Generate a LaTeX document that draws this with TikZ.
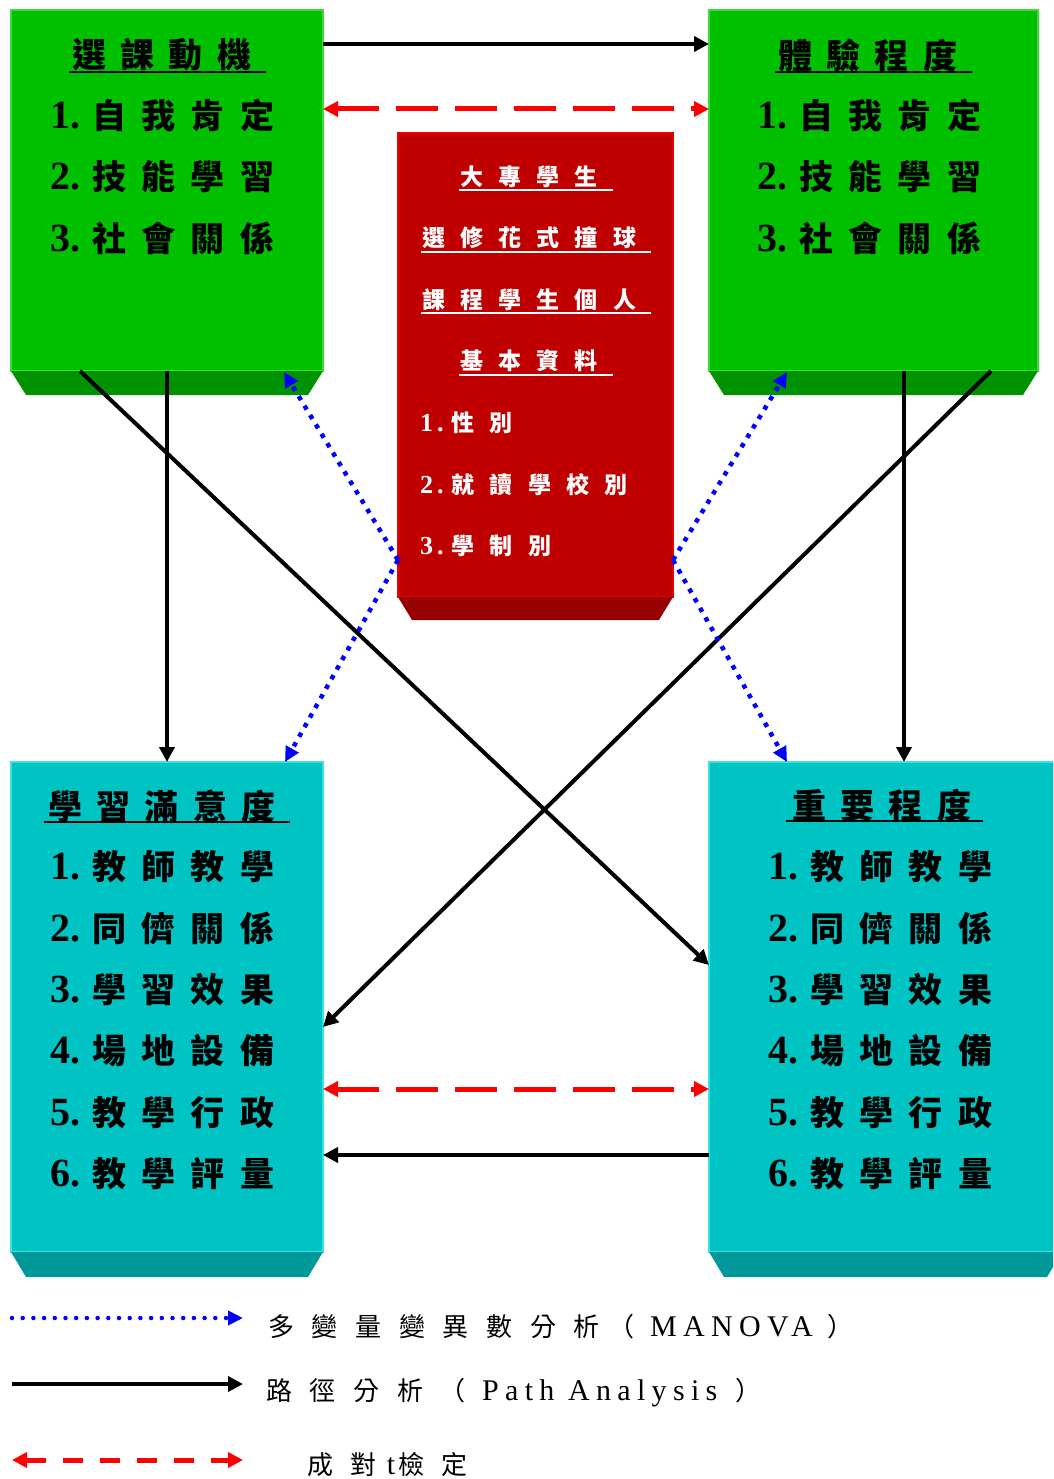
\documentclass[tikz,border=0pt]{standalone}
\usepackage{fontspec}
\setmainfont{Liberation Serif}
\newfontfamily\cjkfont{Noto Sans CJK TC}
\newfontfamily\lsfont[LetterSpace=21]{Liberation Serif}
\usetikzlibrary{arrows.meta,calc}
\definecolor{gface}{RGB}{0,192,0}
\definecolor{gbev}{RGB}{0,146,0}
\definecolor{gedge}{RGB}{60,220,60}
\definecolor{rface}{RGB}{192,0,0}
\definecolor{rbev}{RGB}{150,0,0}
\definecolor{redge}{RGB}{230,0,0}
\definecolor{cface}{RGB}{0,196,196}
\definecolor{cbev}{RGB}{0,152,152}
\definecolor{cedge}{RGB}{60,225,225}
\definecolor{arrred}{RGB}{255,0,0}
\definecolor{arrblue}{RGB}{0,0,255}
\newcommand\gapA{\hspace{0.45em}}
\newcommand\gapT{\hspace{0.42em}}
\newcommand\gapR{\hspace{0.66em}}
\newcommand\gapL{\hspace{0.68em}}
\newcommand\itm[2]{{\fontsize{40}{40}\selectfont\bfseries #1.}\hspace{12pt}{\cjkfont\bfseries\fontsize{34}{34}\selectfont #2}}
\newcommand\ritm[2]{{\fontsize{26}{26}\selectfont\bfseries #1\hspace{4pt}.}\hspace{8pt}{\cjkfont\bfseries\fontsize{23}{23}\selectfont #2}}
\newcommand\ttl[1]{{\cjkfont\bfseries\fontsize{34}{34}\selectfont #1}}
\newcommand\rttl[1]{{\cjkfont\bfseries\fontsize{23}{23}\selectfont #1}}
\newcommand\lgc[1]{{\cjkfont\fontsize{26}{26}\selectfont #1}}
\begin{document}
\begin{tikzpicture}[x=1pt,y=-1pt,
  face/.style={rectangle, inner sep=0pt, outer sep=0pt, anchor=north west, line width=1.2pt},
  txt/.style={inner sep=0pt, anchor=west},
  ctxt/.style={inner sep=0pt},
  uline/.style={line width=2pt},
  pathar/.style={line width=4pt, -{Triangle[length=15pt,width=15pt]}},
  ttest/.style={line width=5pt, arrred, dash pattern=on 42pt off 17pt, {Triangle[length=15pt,width=15pt]}-{Triangle[length=15pt,width=15pt]}},
  ttestleg/.style={line width=5pt, arrred, dash pattern=on 20pt off 17pt, {Triangle[length=15pt,width=15pt]}-{Triangle[length=15pt,width=15pt]}},
  mano/.style={line width=4.5pt, arrblue, dash pattern=on 4.5pt off 6.5pt, -{Triangle[length=15pt,width=14pt]}},
  manoleg/.style={line width=4.5pt, arrblue, line cap=round, dash pattern=on 0pt off 10.7pt, -{Triangle[length=15pt,width=14pt]}},
]
\useasboundingbox (0,0) rectangle (1053,1479);
\clip (0,0) rectangle (1053,1479);

% ---------- boxes ----------
\node[face, fill=gface, draw=gedge, minimum width=312pt, minimum height=361pt] (mot) at (11,10) {};
\fill[gbev] (mot.south west) -- (mot.south east) -- ++(-15,24) -- ($(mot.south west)+(15,24)$) -- cycle;

\node[face, fill=gface, draw=gedge, minimum width=329pt, minimum height=361pt] (exp) at (709,10) {};
\fill[gbev] (exp.south west) -- (exp.south east) -- ++(-15,24) -- ($(exp.south west)+(15,24)$) -- cycle;

\node[face, fill=rface, draw=redge, minimum width=275pt, minimum height=464pt] (info) at (398,133) {};
\fill[rbev] (info.south west) -- (info.south east) -- ++(-14,23) -- ($(info.south west)+(14,23)$) -- cycle;

\node[face, fill=cface, draw=cedge, minimum width=312pt, minimum height=490pt] (sat) at (11,762) {};
\fill[cbev] (sat.south west) -- (sat.south east) -- ++(-15,25) -- ($(sat.south west)+(15,25)$) -- cycle;

\node[face, fill=cface, draw=cedge, minimum width=353pt, minimum height=490pt] (imp) at (709,762) {};
\fill[cbev] (imp.south west) -- (imp.south east) -- ++(-15,25) -- ($(imp.south west)+(15,25)$) -- cycle;

% ---------- texts: 選課動機 ----------
\node[txt] (motT) at (72,55) {\ttl{選\gapT 課\gapT 動\gapT 機}};
\draw[uline] (69,72) -- (266,72);
\node[txt] (mot1) at (50,115) {\itm{1}{自\gapA 我\gapA 肯\gapA 定}};
\node[txt] (mot2) at (50,177) {\itm{2}{技\gapA 能\gapA 學\gapA 習}};
\node[txt] (mot3) at (50,238) {\itm{3}{社\gapA 會\gapA 關\gapA 係}};

% ---------- 體驗程度 ----------
\node[txt] (expT) at (778,55) {\ttl{體\gapT 驗\gapT 程\gapT 度}};
\draw[uline] (775,72) -- (972,72);
\node[txt] (exp1) at (757,115) {\itm{1}{自\gapA 我\gapA 肯\gapA 定}};
\node[txt] (exp2) at (757,177) {\itm{2}{技\gapA 能\gapA 學\gapA 習}};
\node[txt] (exp3) at (757,238) {\itm{3}{社\gapA 會\gapA 關\gapA 係}};

% ---------- 學習滿意度 ----------
\node[txt] (satT) at (48,806) {\ttl{學\gapT 習\gapT 滿\gapT 意\gapT 度}};
\draw[uline] (44,822) -- (290,822);
\node[txt] (sat1) at (50,867) {\itm{1}{教\gapA 師\gapA 教\gapA 學}};
\node[txt] (sat2) at (50,928) {\itm{2}{同\gapA 儕\gapA 關\gapA 係}};
\node[txt] (sat3) at (50,990) {\itm{3}{學\gapA 習\gapA 效\gapA 果}};
\node[txt] (sat4) at (50,1051) {\itm{4}{場\gapA 地\gapA 設\gapA 備}};
\node[txt] (sat5) at (50,1113) {\itm{5}{教\gapA 學\gapA 行\gapA 政}};
\node[txt] (sat6) at (50,1174) {\itm{6}{教\gapA 學\gapA 評\gapA 量}};

% ---------- 重要程度 ----------
\node[txt] (impT) at (792,805) {\ttl{重\gapT 要\gapT 程\gapT 度}};
\draw[uline] (786,821) -- (983,821);
\node[txt] (imp1) at (768,867) {\itm{1}{教\gapA 師\gapA 教\gapA 學}};
\node[txt] (imp2) at (768,928) {\itm{2}{同\gapA 儕\gapA 關\gapA 係}};
\node[txt] (imp3) at (768,990) {\itm{3}{學\gapA 習\gapA 效\gapA 果}};
\node[txt] (imp4) at (768,1051) {\itm{4}{場\gapA 地\gapA 設\gapA 備}};
\node[txt] (imp5) at (768,1113) {\itm{5}{教\gapA 學\gapA 行\gapA 政}};
\node[txt] (imp6) at (768,1174) {\itm{6}{教\gapA 學\gapA 評\gapA 量}};

% ---------- red box ----------
\node[txt, text=white] (inf1) at (460,177) {\rttl{大\gapR 專\gapR 學\gapR 生}};
\draw[uline, white] (459,190) -- (613,190);
\node[txt, text=white] (inf2) at (422,238) {\rttl{選\gapR 修\gapR 花\gapR 式\gapR 撞\gapR 球}};
\draw[uline, white] (421,252) -- (651,252);
\node[txt, text=white] (inf3) at (422,300) {\rttl{課\gapR 程\gapR 學\gapR 生\gapR 個\gapR 人}};
\draw[uline, white] (421,313) -- (651,313);
\node[txt, text=white] (inf4) at (460,361) {\rttl{基\gapR 本\gapR 資\gapR 料}};
\draw[uline, white] (459,375) -- (613,375);
\node[txt, text=white] (inf5) at (420,423) {\ritm{1}{性\gapR 別}};
\node[txt, text=white] (inf6) at (420,485) {\ritm{2}{就\gapR 讀\gapR 學\gapR 校\gapR 別}};
\node[txt, text=white] (inf7) at (420,546) {\ritm{3}{學\gapR 制\gapR 別}};

% ---------- connectors ----------
\draw[pathar] ([yshift=-34pt]mot.north east) -- ([yshift=-34pt]exp.north west);
\draw[ttest] ([yshift=-99pt]mot.north east) -- ([yshift=-99pt]exp.north west);
\draw[pathar] (mot.south) -- (sat.north);
\draw[pathar] ([xshift=-134pt]exp.south east) -- ([xshift=195pt]imp.north west);
\draw[pathar] ([xshift=69pt]mot.south west) -- ([yshift=-203pt]imp.north west);
\draw[pathar] ([xshift=-47pt]exp.south east) -- ([yshift=-265pt]sat.north east);
\draw[ttest] ([yshift=-327pt]sat.north east) -- ([yshift=-327pt]imp.north west);
\draw[pathar] ([yshift=-393pt]imp.north west) -- ([yshift=-393pt]sat.north east);

\draw[mano] ([yshift=-427pt]info.north west) -- ([xshift=-39pt,yshift=-1pt]mot.south east);
\draw[mano] ([yshift=-427pt]info.north west) -- ([xshift=-38pt]sat.north east);
\draw[mano] ([yshift=-427pt]info.north east) -- ([xshift=78pt,yshift=-1pt]exp.south west);
\draw[mano] ([yshift=-427pt]info.north east) -- ([xshift=78pt]imp.north west);

% ---------- legend ----------
\coordinate (m1) at (12,1318);
\coordinate (m2) at (243,1318);
\coordinate (p1) at (12,1384);
\coordinate (p2) at (243,1384);
\coordinate (t1) at (12,1460);
\coordinate (t2) at (243,1460);
\draw[manoleg] (m1) -- (m2);
\draw[pathar] (p1) -- (p2);
\draw[ttestleg] (t1) -- (t2);

\node[txt] (lg1) at (268,1327) {\lgc{多\gapL 變\gapL 量\gapL 變\gapL 異\gapL 數\gapL 分\gapL 析}};
\node[ctxt] (lg1a) at (621,1327) {\lgc{（}};
\node[txt] (lg1b) at (650,1327) {\lsfont\fontsize{30}{30}\selectfont MANOVA};
\node[ctxt] (lg1c) at (840,1327) {\lgc{）}};

\node[txt] (lg2) at (266,1391) {\lgc{路\gapL 徑\gapL 分\gapL 析}};
\node[ctxt] (lg2a) at (452,1391) {\lgc{（}};
\node[txt] (lg2b) at (482,1393) {\lsfont\fontsize{30}{30}\selectfont Path Analysis};
\node[ctxt] (lg2c) at (748,1391) {\lgc{）}};

\node[txt] (lg3) at (307,1465) {\lgc{成\gapL 對\hspace{10pt}{\rmfamily\fontsize{30}{30}\selectfont t}\hspace{3pt}檢\gapL 定}};
\end{tikzpicture}
\end{document}
